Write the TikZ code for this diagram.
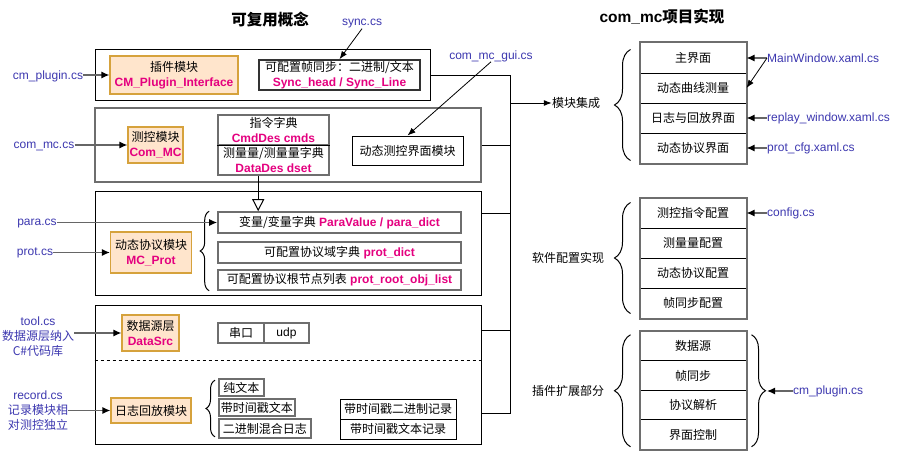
\documentclass[tikz,border=0pt]{standalone}
\usepackage{fontspec}
\usepackage{tikz}
\usetikzlibrary{arrows.meta,positioning,calc,decorations.pathreplacing}
\setmainfont{Liberation Sans}
\newfontfamily\cjk{Noto Sans CJK SC}
\definecolor{cmblue}{RGB}{60,55,175}
\definecolor{cmpink}{RGB}{228,0,127}
\definecolor{cmpeach}{RGB}{255,229,204}
\definecolor{cmgold}{RGB}{214,162,60}
\definecolor{cmgray}{RGB}{110,110,110}
\newcommand{\idf}[1]{{\bfseries\color{cmpink}#1}}

\begin{document}
\begin{tikzpicture}[x=1pt,y=-1pt,
    every node/.style={font=\fontsize{12}{15}\selectfont,inner sep=0pt,align=center},
    secbox/.style={draw,line width=1pt},
    modbox/.style={draw=cmgold,line width=1.2pt,fill=cmpeach},
    itembox/.style={draw=cmgray,line width=1.6pt},
    textbox/.style={draw,line width=1pt},
    cellbox/.style={draw,line width=1pt,minimum width=106,minimum height=30},
    filelabel/.style={text=cmblue},
    srcarrow/.style={draw=black!60,line width=1.3pt,-{Latex[length=8pt,width=7pt,color=black]}},
    thinarrow/.style={draw,line width=0.8pt,-{Latex[length=8pt,width=6pt]}},
    wire/.style={draw,line width=1pt},
    curly/.style={draw,line width=1pt,decorate,decoration={brace,amplitude=#1}},
    titlefont/.style={font=\fontsize{15.5}{18}\selectfont\bfseries}]
  \useasboundingbox (0,0) rectangle (901,452);
  % Titles
  \node[titlefont] (reuse) at (270,20) {\cjk 可复用概念};
  \node[titlefont] (impl) at (662,17) {com\_mc{\cjk 项目实现}};

  % Reusable concepts: four layers
  \node[secbox,minimum width=335,minimum height=50] (sec1) at (262.5,75) {};
  \node[secbox,draw=cmgray,line width=2pt,minimum width=386,minimum height=74] (sec2) at (288,145) {};
  \node[secbox,minimum width=386,minimum height=104] (sec3) at (288,243) {};
  \node[secbox,minimum width=386,minimum height=139] (sec4) at (288,374.5) {};

  % Layer 1
  \node[modbox,minimum width=128,minimum height=38] (plugin) at (174,75)
       {{\cjk 插件模块}\\\idf{CM\_Plugin\_Interface}};
  \node[itembox,draw=black!80,minimum width=161,minimum height=30] (sync) at (339.5,75)
       {{\cjk 可配置帧同步：二进制/文本}\\\idf{Sync\_head / Sync\_Line}};

  % Layer 2
  \node[modbox,minimum width=55,minimum height=36] (commc) at (155.5,145)
       {{\cjk 测控模块}\\\idf{Com\_MC}};
  \node[itembox,minimum width=111,minimum height=30] (dictA) at (273.5,130)
       {{\cjk 指令字典}\\\idf{CmdDes cmds}};
  \node[itembox,minimum width=111,minimum height=30] (dictB) at (273.5,160)
       {{\cjk 测量量/测量量字典}\\\idf{DataDes dset}};
  \draw[wire] (dictA.south west) -- (dictA.south east);
  \node[textbox,minimum width=111,minimum height=29] (gui) at (407.5,150.5) {\cjk 动态测控界面模块};

  % Layer 3
  \node[modbox,minimum width=81,minimum height=41] (prot) at (151,252.5)
       {{\cjk 动态协议模块}\\\idf{MC\_Prot}};
  \node[itembox,minimum width=243,minimum height=21] (para) at (339.5,222.5)
       {{\cjk 变量/变量字典} \idf{ParaValue / para\_dict}};
  \node[itembox,minimum width=243,minimum height=21] (protdict) at (339.5,252.5)
       {{\cjk 可配置协议域字典} \idf{prot\_dict}};
  \node[itembox,minimum width=243,minimum height=20] (rootlist) at (339.5,280)
       {{\cjk 可配置协议根节点列表} \idf{prot\_root\_obj\_list}};
  \draw[curly=9] ($(rootlist.south west)+(-8,0)$) -- ($(para.north west)+(-8,0)$);
  \draw[line width=1pt,-{Triangle[open,length=12pt,width=12pt]}]
       ($(dictB.south west)+(41,0)$) coordinate (dtop) -- (dtop |- para.north);

  % Layer 4
  \node[modbox,minimum width=57,minimum height=36] (src) at (150.5,333)
       {{\cjk 数据源层}\\\idf{DataSrc}};
  \node[itembox,minimum width=46,minimum height=20] (serial) at (241,333) {\cjk 串口};
  \node[itembox,minimum width=45,minimum height=20] (udp) at (286.5,333) {udp};
  \coordinate (dashy) at (0,360);
  \draw[line width=1pt,dashed] (sec4.west |- dashy) -- (sec4.east |- dashy);
  \node[modbox,minimum width=80,minimum height=25] (log) at (151,410.5) {\cjk 日志回放模块};
  \node[itembox,anchor=west,minimum width=45,minimum height=17] (plaintxt) at (218,387.5) {\cjk 纯文本};
  \node[itembox,anchor=west,minimum width=76,minimum height=17] (tstext) at (218,407.5) {\cjk 带时间戳文本};
  \node[itembox,anchor=west,minimum width=92,minimum height=19] (mixed) at (218,428.5) {\cjk 二进制混合日志};
  \draw[curly=9] ($(mixed.south west)+(-3,-2)$) -- ($(plaintxt.north west)+(-3,2)$);
  \node[textbox,minimum width=116,minimum height=20] (tsbin) at (398,409) {\cjk 带时间戳二进制记录};
  \node[textbox,minimum width=116,minimum height=20] (tsrec) at (398,429) {\cjk 带时间戳文本记录};

  % Source files (left)
  \node[filelabel] (lplugin) at (48,76) {cm\_plugin.cs};
  \node[filelabel] (lcommc) at (44,146) {com\_mc.cs};
  \node[filelabel] (lpara) at (37,224) {para.cs};
  \node[filelabel] (lprot) at (35,253) {prot.cs};
  \node[filelabel] (ltool) at (38,337) {tool.cs\\{\cjk 数据源层纳入}\\{\cjk C\#代码库}};
  \node[filelabel] (lrecord) at (38,411) {record.cs\\{\cjk 记录模块相}\\{\cjk 对测控独立}};
  \node[filelabel] (lsync) at (362,24) {sync.cs};
  \node[filelabel] (lgui) at (491,56) {com\_mc\_gui.cs};
  \draw[srcarrow] (lplugin.east |- plugin.west) -- (plugin.west);
  \draw[srcarrow] (lcommc.east |- commc.west) -- (commc.west);
  \draw[srcarrow] (lpara.east |- para.west) -- (para.west);
  \draw[srcarrow] (lprot.east |- prot.west) -- (prot.west);
  \draw[srcarrow] (ltool.east |- src.west) -- (src.west);
  \draw[srcarrow] (lrecord.east |- log.west) -- (log.west);
  \draw[thinarrow] (lsync.south) -- (sync.north);
  \draw[thinarrow] (lgui.south) -- (gui.north);

  % Bus to the implementation side
  \coordinate (bustop) at (510,75);
  \coordinate (busout) at (510,103);
  \coordinate (bus3) at (510,213);
  \coordinate (bus4) at (510,330);
  \coordinate (busbot) at (510,413);
  \draw[wire] (sec1.east) -- (bustop) -- (busbot) -- (busbot -| sec4.east);
  \draw[wire] (sec2.east) -- (sec2.east -| bustop);
  \draw[wire] (bus3 -| sec3.east) -- (bus3);
  \draw[wire] (bus4 -| sec4.east) -- (bus4);
  \node (integr) at (576,103) {\cjk 模块集成};
  \draw[thinarrow,line width=1pt] (busout) -- (integr.west);
  \node (swcfg) at (568,258) {\cjk 软件配置实现};
  \node (plugext) at (568,391) {\cjk 插件扩展部分};

  % com_mc implementation stacks
  \foreach \n/\t [count=\k] in {mainwin/主界面, curve/动态曲线测量, replay/日志与回放界面, protui/动态协议界面}{
    \node[cellbox] (\n) at (693,{28+30*\k}) {\cjk \t};
  }
  \foreach \n/\t [count=\k] in {cmdcfg/测控指令配置, meascfg/测量量配置, protcfg/动态协议配置, synccfg/帧同步配置}{
    \node[cellbox] (\n) at (693,{183+30*\k}) {\cjk \t};
  }
  \foreach \n/\t [count=\k] in {dsrc/数据源, fsync/帧同步, parse/协议解析, uictrl/界面控制}{
    \node[cellbox,minimum height=29.5] (\n) at (693,{316.5+29.5*\k}) {\cjk \t};
  }
  \draw[draw=cmgray,line width=2pt] (mainwin.north west) rectangle (protui.south east);
  \draw[draw=cmgray,line width=2pt] (cmdcfg.north west) rectangle (synccfg.south east);
  \draw[draw=cmgray,line width=2pt] (dsrc.north west) rectangle (uictrl.south east);
  \draw[curly=16] ($(protui.south west)+(-9,-3)$) -- ($(mainwin.north west)+(-9,7)$);
  \draw[curly=16] ($(synccfg.south west)+(-9,-5)$) -- ($(cmdcfg.north west)+(-9,5)$);
  \draw[curly=16] ($(uictrl.south west)+(-9,-3)$) -- ($(dsrc.north west)+(-9,4)$);
  \draw[curly=14] ($(dsrc.north east)+(5,4)$) -- ($(uictrl.south east)+(5,-3)$);
  \coordinate (ptip) at (767,391);

  % Source files (right)
  \node[filelabel,anchor=west] (lmain) at (767,58) {MainWindow.xaml.cs};
  \node[filelabel,anchor=west] (lreplay) at (767,118) {replay\_window.xaml.cs};
  \node[filelabel,anchor=west] (lprotcfg) at (767,148) {prot\_cfg.xaml.cs};
  \node[filelabel,anchor=west] (lconfig) at (767,213) {config.cs};
  \node[filelabel,anchor=west] (lplugin2) at (793,391) {cm\_plugin.cs};
  \draw[srcarrow] (lmain.west) -- (mainwin.east);
  \draw[thinarrow] (lmain.west) -- (curve.east);
  \draw[srcarrow] (lreplay.west) -- (replay.east);
  \draw[srcarrow] (lprotcfg.west) -- (protui.east);
  \draw[srcarrow] (lconfig.west) -- (cmdcfg.east);
  \draw[srcarrow] (lplugin2.west) -- (ptip);
\end{tikzpicture}
\end{document}
